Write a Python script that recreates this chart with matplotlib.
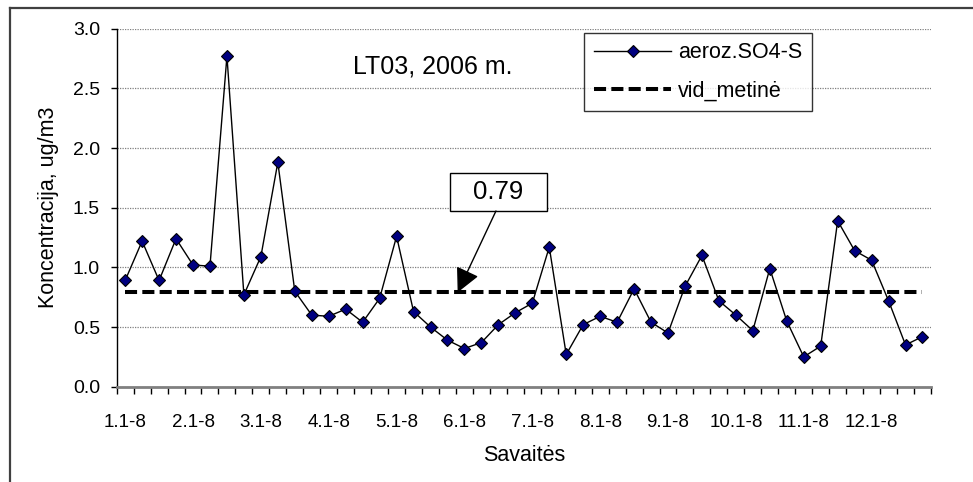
import numpy as np
import matplotlib.pyplot as plt
from matplotlib.lines import Line2D
from matplotlib.patches import Rectangle
plt.switch_backend('agg')

plt.rcParams['font.family'] = ['Liberation Sans', 'DejaVu Sans']

# weekly concentrations, LT03 2006
conc = [0.89, 1.22, 0.89, 1.24, 1.02, 1.01, 2.77, 0.77, 1.09, 1.88,
        0.80, 0.60, 0.59, 0.65, 0.54, 0.74, 1.26, 0.63, 0.50, 0.39,
        0.32, 0.37, 0.52, 0.62, 0.70, 1.17, 0.27, 0.52, 0.59, 0.54,
        0.82, 0.54, 0.45, 0.84, 1.10, 0.72, 0.60, 0.47, 0.99, 0.55,
        0.25, 0.34, 1.39, 1.14, 1.06, 0.72, 0.35, 0.42]
mean_value = 0.79
month_labels = ["1.1-8", "2.1-8", "3.1-8", "4.1-8", "5.1-8", "6.1-8",
                "7.1-8", "8.1-8", "9.1-8", "10.1-8", "11.1-8", "12.1-8"]

weeks = np.arange(len(conc))

fig = plt.figure(figsize=(9.73, 4.82), dpi=100)
ax = fig.add_axes([0.1199, 0.1977, 0.8369, 0.7428])

ax.plot(weeks, conc, color='black', lw=1.0, marker='D', markersize=6,
        markerfacecolor='#000080', markeredgecolor='black',
        markeredgewidth=0.8, label='aeroz.SO4-S', zorder=4)
ax.plot(weeks, [mean_value] * len(weeks), color='black', lw=2.9,
        dashes=(3, 1.3), dash_capstyle='butt', label='vid_metinė', zorder=3)

ax.set_xlim(-0.5, len(conc) - 0.5)
ax.set_ylim(0, 3.0)
ax.set_yticks(np.arange(0, 3.01, 0.5))
ax.set_yticklabels([f"{v:.1f}" for v in np.arange(0, 3.01, 0.5)])
ax.yaxis.grid(True, color='#808080', lw=0.9, linestyle=(0, (1, 1)))
ax.set_axisbelow(True)

# tick marks between weeks, labels on every 4th week
ax.set_xticks(np.arange(-0.5, len(conc), 1.0))
ax.set_xticklabels([])
ax.set_xticks(weeks[::4], minor=True)
ax.set_xticklabels(month_labels, minor=True)
ax.tick_params(axis='x', which='major', direction='out', length=5,
               width=1, color='black')
ax.tick_params(axis='x', which='minor', length=0, pad=20, labelsize=13.5)
ax.tick_params(axis='y', direction='out', length=4, width=1, pad=8,
               labelsize=14)

for s in ['top', 'right']:
    ax.spines[s].set_visible(False)
ax.spines['left'].set_color('black')
ax.spines['left'].set_linewidth(1)
ax.spines['bottom'].set_color('#808080')
ax.spines['bottom'].set_linewidth(2)

ax.set_ylabel("Koncentracija, ug/m3", fontsize=15.5, labelpad=10)
ax.set_xlabel("Savaitės", fontsize=15.5, labelpad=10)

ax.text(0.388, 0.894, "LT03, 2006 m.", transform=ax.transAxes,
        ha='center', va='center', fontsize=18)

leg = ax.legend(loc='upper left', bbox_to_anchor=(0.574, 0.989),
                fontsize=15.5, frameon=True, fancybox=False,
                handlelength=3.6, handletextpad=0.3, labelspacing=0.8,
                borderpad=0.45, borderaxespad=0)
leg.get_frame().set_edgecolor('black')
leg.get_frame().set_linewidth(1)

# callout for the annual mean
ax.add_patch(Rectangle((0.4093, 0.4908), 0.1191, 0.1062,
                       transform=ax.transAxes, facecolor='white',
                       edgecolor='black', lw=1, zorder=5))
ax.text(0.469, 0.544, f"{mean_value:.2f}", transform=ax.transAxes,
        ha='center', va='center', fontsize=18.5, zorder=6)
ax.annotate("", xy=(19.6, mean_value), xycoords='data',
            xytext=(0.4658, 0.4908), textcoords='axes fraction',
            arrowprops=dict(arrowstyle='-|>,head_length=1.5,head_width=0.75',
                            color='black', lw=1, shrinkA=0, shrinkB=0),
            zorder=6)

# outer chart border (top and left only visible)
fig.add_artist(Line2D([0.0103, 1.0], [0.9834, 0.9834], color='#404040',
                      lw=1.6, transform=fig.transFigure))
fig.add_artist(Line2D([0.0103, 0.0103], [0.0, 0.9834], color='#404040',
                      lw=1.6, transform=fig.transFigure))

fig.savefig("out.png", dpi=100)
